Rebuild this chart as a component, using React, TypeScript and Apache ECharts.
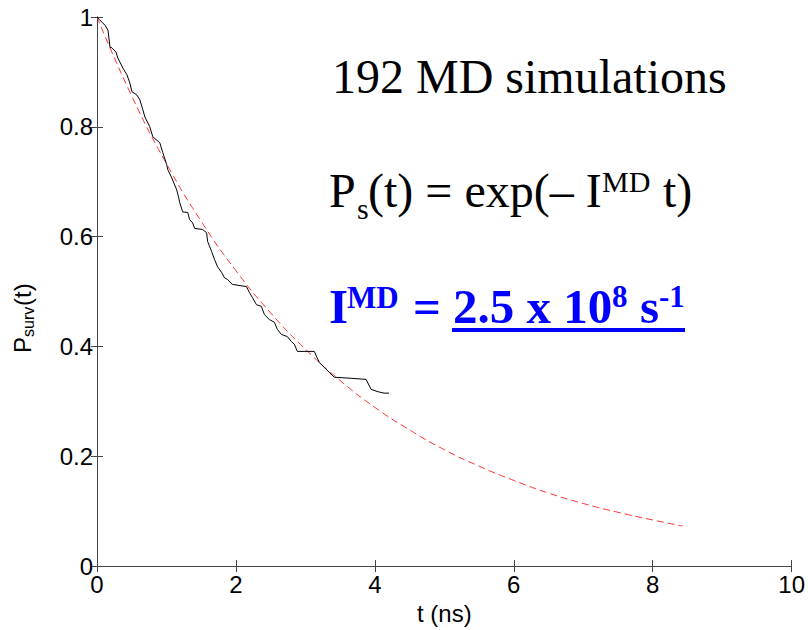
import React, { useEffect, useRef } from "react";
import * as echarts from "echarts";

// Survival probability from 192 MD simulations (staircase trace)
const survT = [0, 0.029, 0.115, 0.158, 0.187, 0.215, 0.273, 0.301, 0.373, 0.43, 0.473, 0.502, 0.574, 0.617, 0.66, 0.689, 0.76, 0.803, 0.904, 0.947, 1.004, 1.019, 1.076, 1.148, 1.176, 1.191, 1.234, 1.306, 1.334, 1.377, 1.406, 1.521, 1.578, 1.593, 1.65, 1.693, 1.736, 1.793, 1.836, 1.879, 1.951, 2.152, 2.195, 2.238, 2.296, 2.367, 2.41, 2.482, 2.554, 2.597, 2.654, 2.74, 2.798, 2.841, 2.884, 3.128, 3.199, 3.271, 3.343, 3.415, 3.659, 3.874, 3.945, 4.032, 4.132, 4.204];
const survP = [1.0, 0.996, 0.985, 0.976, 0.945, 0.944, 0.936, 0.925, 0.907, 0.895, 0.88, 0.864, 0.858, 0.849, 0.831, 0.818, 0.8, 0.782, 0.771, 0.753, 0.731, 0.722, 0.707, 0.685, 0.671, 0.662, 0.645, 0.644, 0.631, 0.625, 0.615, 0.613, 0.607, 0.591, 0.573, 0.558, 0.545, 0.535, 0.525, 0.522, 0.513, 0.509, 0.498, 0.489, 0.476, 0.473, 0.458, 0.449, 0.444, 0.431, 0.422, 0.418, 0.409, 0.404, 0.391, 0.391, 0.371, 0.362, 0.353, 0.344, 0.342, 0.34, 0.322, 0.318, 0.315, 0.315];

// Exponential fit curve (red dashed)
const fitT = [0, 0.5, 1, 1.5, 2, 2.5, 3, 3.5, 4, 4.5, 5, 5.5, 6, 6.5, 7, 7.5, 8, 8.43];
const fitP = [1, 0.856, 0.733, 0.628, 0.538, 0.461, 0.395, 0.338, 0.289, 0.248, 0.212, 0.182, 0.156, 0.133, 0.114, 0.098, 0.084, 0.073];

const xMin = 0, xMax = 10, xStep = 2;
const yMin = 0, yMax = 1, yStep = 0.2;

const SERIF = '"Liberation Serif", "Times New Roman", serif';
const SANS = '"Liberation Sans", Arial, sans-serif';

function txt(text: string, x: number, y: number, size: number, color: string, bold = false, family = SERIF) {
  return {
    type: "text",
    x,
    y,
    silent: true,
    style: {
      text,
      fill: color,
      font: `${bold ? "bold " : ""}${size}px ${family}`,
      align: "left",
      verticalAlign: "middle",
      textAlign: "left",
      textVerticalAlign: "middle",
    },
  };
}

export default function App() {
  const ref = useRef<HTMLDivElement>(null);
  useEffect(() => {
    if (!ref.current) return;
    const chart = echarts.init(ref.current, null, { renderer: "svg" });
    const axisColor = "#444";
    const BLUE = "#0000ff";
    const sansMid = (base: number, s: number) => base - 0.3465 * s;
    const serifMid = (base: number, s: number) => base - 0.3375 * s;
    chart.setOption({
      animation: false,
      backgroundColor: "#fff",
      grid: { left: 97, right: 13, top: 17, bottom: 63, containLabel: false },
      xAxis: [
        {
          type: "value",
          min: xMin,
          max: xMax,
          interval: xStep,
          position: "bottom",
          name: "t (ns)",
          nameLocation: "middle",
          nameGap: 27,
          nameTextStyle: { color: "#000", fontSize: 24, fontFamily: SANS },
          axisLine: { show: true, lineStyle: { color: axisColor, width: 1 } },
          axisTick: { show: true, inside: true, length: 6, lineStyle: { color: axisColor } },
          axisLabel: { color: "#000", fontSize: 24, fontFamily: SANS, margin: 6 },
          splitLine: { show: false },
        },
        {
          type: "value",
          min: xMin,
          max: xMax,
          interval: xStep,
          position: "top",
          axisLine: { show: true, lineStyle: { color: axisColor, width: 1 } },
          axisTick: { show: true, inside: true, length: 6, lineStyle: { color: axisColor } },
          axisLabel: { show: false },
          splitLine: { show: false },
        },
      ],
      yAxis: [
        {
          type: "value",
          min: yMin,
          max: yMax,
          interval: yStep,
          position: "left",
          axisLine: { show: true, lineStyle: { color: axisColor, width: 1 } },
          axisTick: { show: true, inside: true, length: 6, lineStyle: { color: axisColor } },
          axisLabel: { color: "#000", fontSize: 24, fontFamily: SANS, margin: 4 },
          splitLine: { show: false },
        },
        {
          type: "value",
          min: yMin,
          max: yMax,
          interval: yStep,
          position: "right",
          axisLine: { show: true, lineStyle: { color: axisColor, width: 1 } },
          axisTick: { show: true, inside: true, length: 6, lineStyle: { color: axisColor } },
          axisLabel: { show: false },
          splitLine: { show: false },
        },
      ],
      series: [
        {
          type: "line",
          name: "fit",
          xAxisIndex: 0,
          yAxisIndex: 0,
          data: fitT.map((t, i) => [t, fitP[i]]),
          smooth: true,
          showSymbol: false,
          lineStyle: { color: "#ff3333", width: 1, type: [7, 4] },
          z: 2,
        },
        {
          type: "line",
          name: "MD",
          xAxisIndex: 0,
          yAxisIndex: 0,
          data: survT.map((t, i) => [t, survP[i]]),
          showSymbol: false,
          lineStyle: { color: "#000", width: 1 },
          z: 3,
        },
      ],
      graphic: [
        // y-axis title P_surv(t)
        {
          type: "group",
          x: 31,
          y: 353,
          rotation: Math.PI / 2,
          silent: true,
          children: [
            txt("P", 0, sansMid(0, 24), 24, "#000", false, SANS),
            txt("surv", 16, sansMid(3, 16), 16, "#000", false, SANS),
            txt("(t)", 47, sansMid(0, 24), 24, "#000", false, SANS),
          ],
        },
        // Line 1
        txt("192 MD simulations", 332, serifMid(93, 48), 48, "#000"),
        // Line 2
        txt("P", 329, serifMid(207, 48), 48, "#000"),
        txt("s", 357, serifMid(219, 30), 30, "#000"),
        txt("(t) = exp(\u2013 I", 368, serifMid(207, 48), 48, "#000"),
        txt("MD", 602, serifMid(192, 30), 30, "#000"),
        txt(" t)", 651, serifMid(207, 48), 48, "#000"),
        // Line 3 (blue, bold)
        txt("I", 329, serifMid(323, 49), 49, BLUE, true),
        txt("MD", 347, serifMid(308, 31), 31, BLUE, true),
        txt("=", 413, serifMid(323, 49), 49, BLUE, true),
        txt("2.5 x 10", 453, serifMid(323, 49), 49, BLUE, true),
        txt("8", 612, serifMid(307, 31), 31, BLUE, true),
        txt("s", 640, serifMid(323, 49), 49, BLUE, true),
        txt("-1", 659, serifMid(307, 31), 31, BLUE, true),
        {
          type: "rect",
          silent: true,
          shape: { x: 452, y: 328, width: 233, height: 4 },
          style: { fill: BLUE },
        },
      ],
    });
    return () => chart.dispose();
  }, []);
  return (
    <div
      ref={ref}
      style={{ position: "fixed", left: 0, top: 0, width: 808, height: 630, background: "#fff" }}
    />
  );
}
